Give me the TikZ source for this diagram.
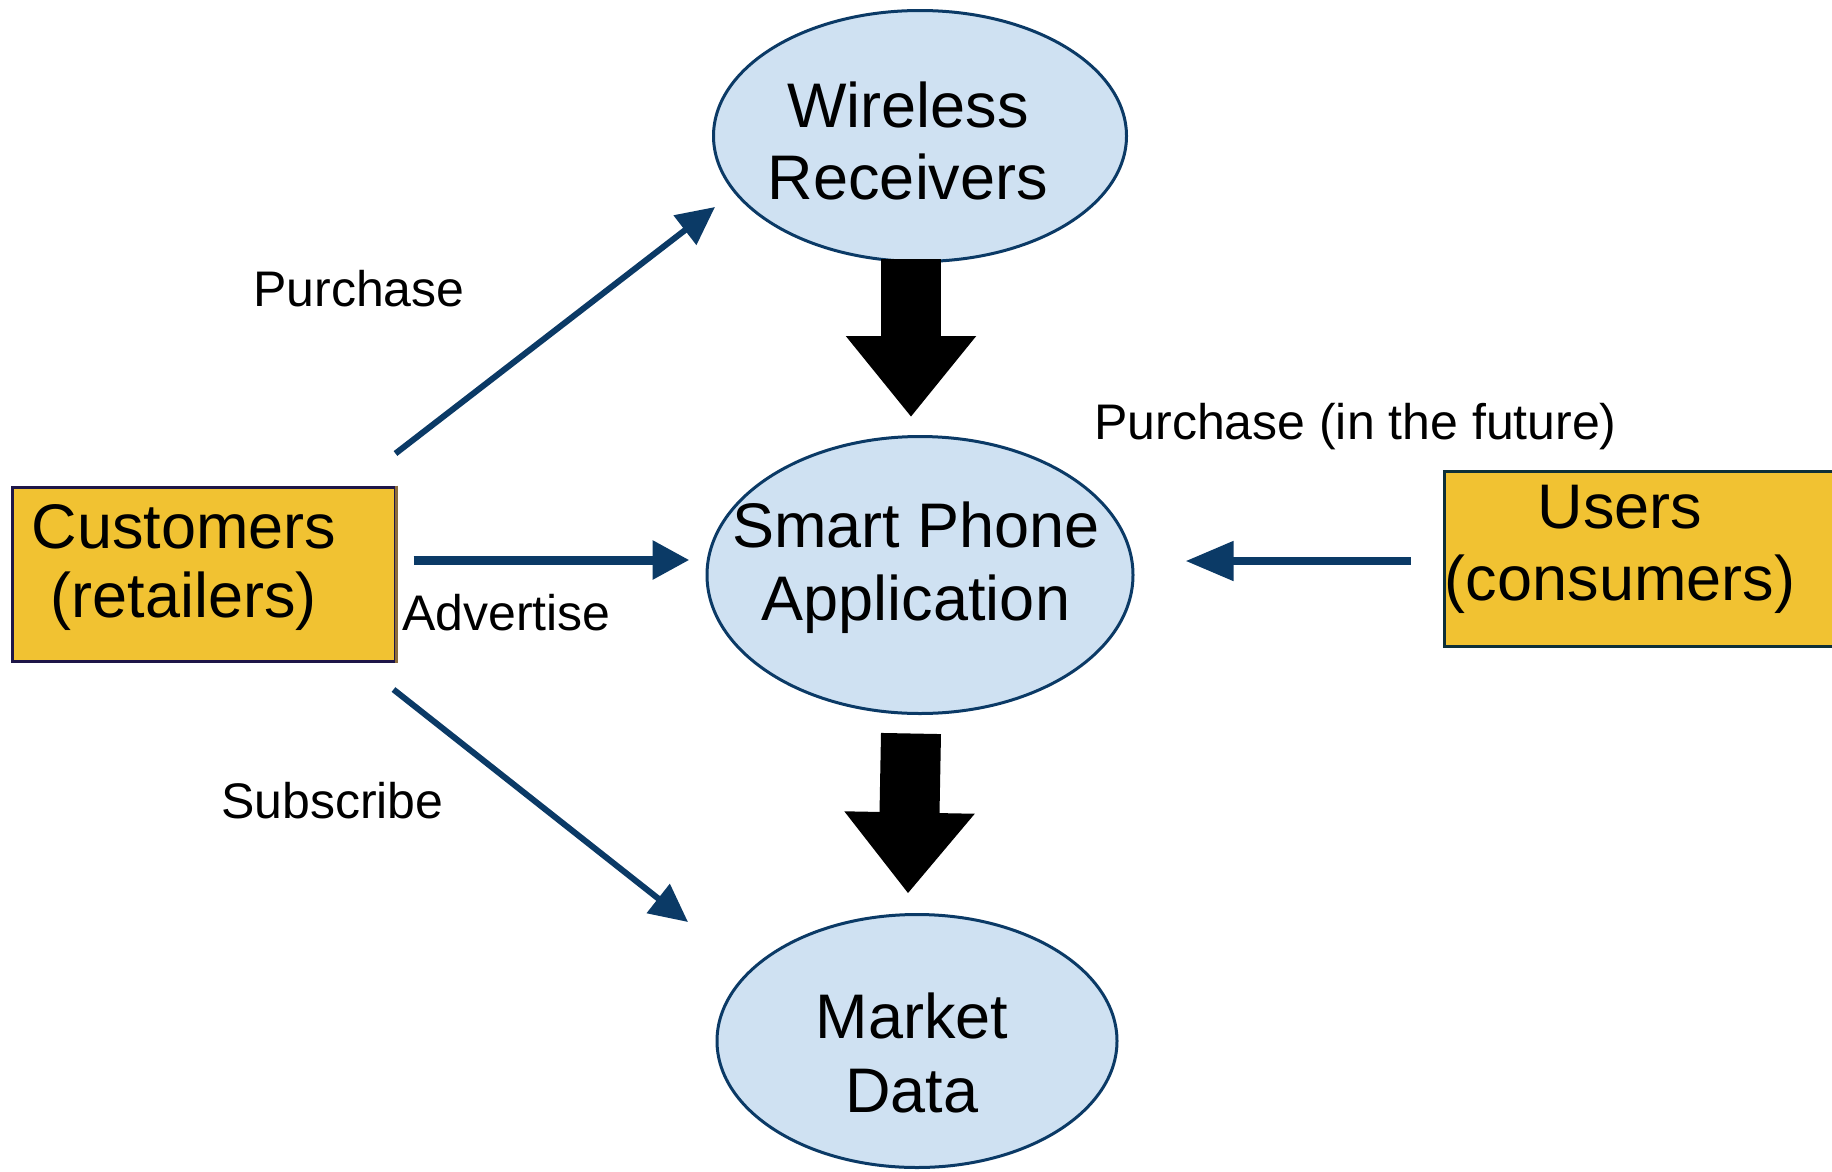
\documentclass[tikz,border=0pt]{standalone}
\usepackage{fontspec}
\setmainfont{Liberation Sans}
\usetikzlibrary{shapes.geometric,arrows.meta,calc}
\definecolor{navy}{RGB}{11,58,102}
\definecolor{ellfill}{RGB}{207,225,242}
\definecolor{gold}{RGB}{241,194,50}
\definecolor{custline}{RGB}{30,22,72}
\definecolor{userline}{RGB}{14,48,56}
\definecolor{brownline}{RGB}{140,108,60}
\begin{document}
\begin{tikzpicture}[x=1pt,y=-1pt,
  ell/.style={ellipse, draw=navy, line width=3pt, fill=ellfill, inner sep=0pt},
  box/.style={rectangle, fill=gold, line width=3pt, inner sep=0pt},
  bigtxt/.style={align=center, inner sep=0pt, anchor=base, font=\fontsize{63}{72}\selectfont},
  lbl/.style={inner sep=0pt, anchor=base west, font=\fontsize{50}{60}\selectfont},
  conn/.style={draw=navy, line width=6pt, -{Triangle[length=38pt,width=36pt]}},
  bigarrow/.style={draw=black, line width=60pt, -{Triangle[length=81pt,width=125pt]}}
]
\useasboundingbox (0,0) rectangle (1832,1171);
\fill[white] (0,0) rectangle (1832,1171);

% shapes
\node[ell, minimum width=413pt, minimum height=251pt] (wr) at (920,136) {};
\node[ell, minimum width=426pt, minimum height=277pt] (sp) at (920,575) {};
\node[ell, minimum width=400pt, minimum height=253pt] (md) at (917,1041) {};
\node[box, draw=custline, minimum width=383pt, minimum height=174pt] (cust) at (203.5,574) {};
\draw[brownline, line width=3pt] (cust.north east) -- (cust.south east);
\node[box, draw=userline, minimum width=400pt, minimum height=175pt] (users) at (1644,558.5) {};

% texts (anchor base = baseline of the last line)
\node[bigtxt] (wrt) at (908,199) {Wireless\\Receivers};
\node[bigtxt, font=\fontsize{63}{73}\selectfont] (spt) at (916,620) {Smart Phone\\Application};
\node[bigtxt, font=\fontsize{63}{74}\selectfont] (mdt) at (912,1112) {Market\\Data};
\node[bigtxt, font=\fontsize{63}{69}\selectfont] (custt) at (184,617) {Customers\\(retailers)};
\node[bigtxt] (userst) at (1620,600) {Users\\(consumers)};

% labels
\node[lbl] (l1) at (253,306) {Purchase};
\node[lbl] (l2) at (1094,439) {Purchase (in the future)};
\node[lbl] (l3) at (402,630) {Advertise};
\node[lbl] (l4) at (221,818) {Subscribe};

% big arrows
\draw[bigarrow] ($(wr.south)+(-9,-4)$) -- ($(sp.north)+(-9,-18)$);
\draw[bigarrow] ($(sp.south)+(-9,18.5)$) -- ($(md.north)+(-9,-19.5)$);

% connectors
\draw[conn] ($(cust.north east)+(-1,-32)$) -- ($(wr.center)+(-205,71)$);
\draw[draw=navy, line width=9pt, -{Triangle[length=37pt,width=37pt]}] ($(cust.east)+(17,-14)$) -- ($(sp.west)+(-16,-15)$);
\draw[conn] ($(cust.south east)+(-3,27)$) -- ($(md.center)+(-229,-119)$);
\draw[draw=navy, line width=8pt, -{Triangle[length=48pt,width=38pt]}] ($(users.west)+(-32,2.5)$) -- ($(sp.east)+(51,-14)$);
\end{tikzpicture}
\end{document}
